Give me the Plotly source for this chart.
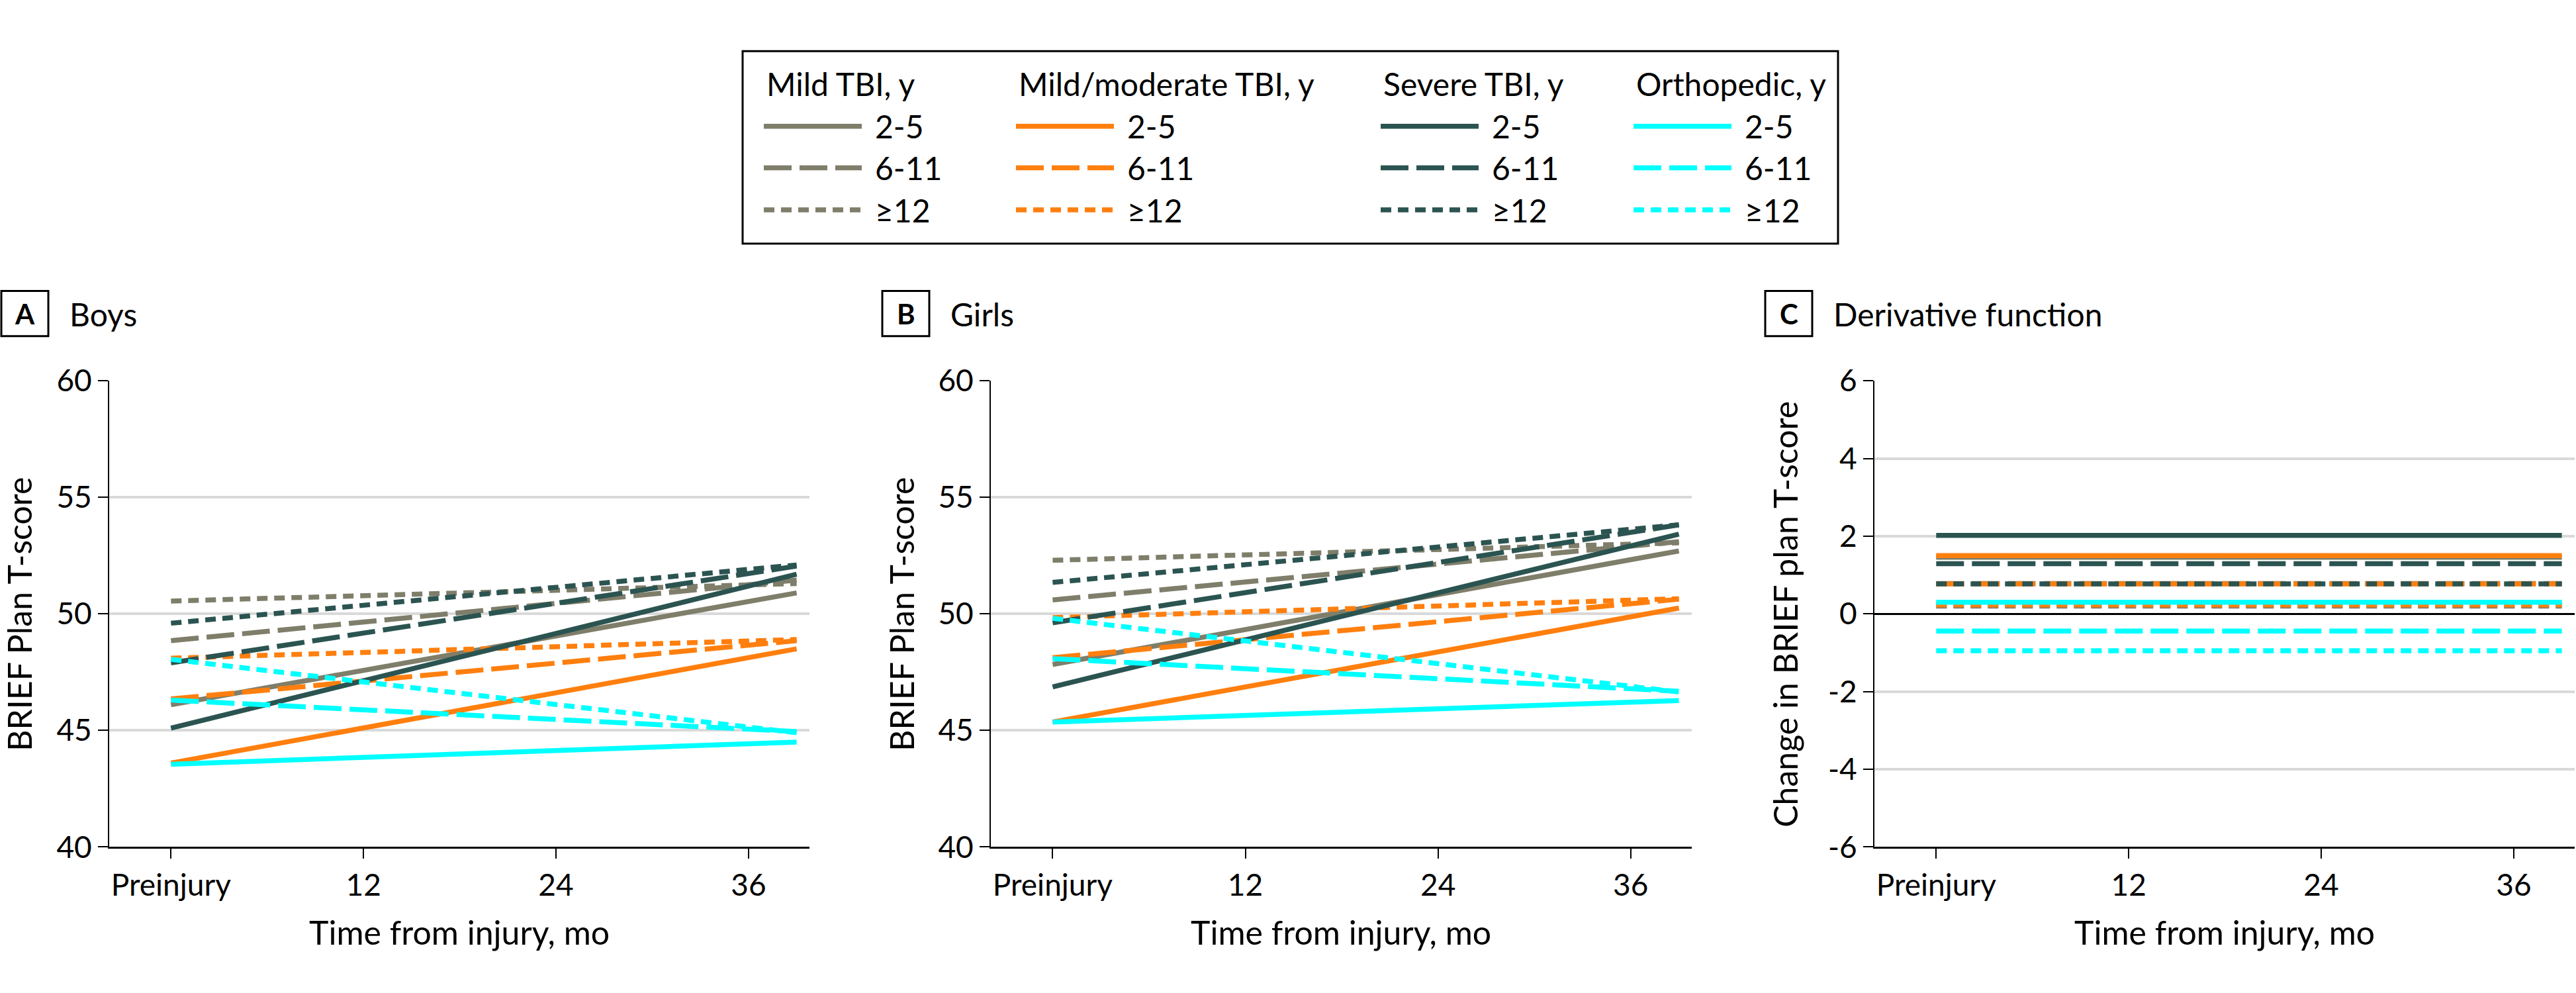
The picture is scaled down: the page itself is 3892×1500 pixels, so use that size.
import plotly.graph_objects as go

W, H = 3892, 1500

# ---------------- data ----------------
months = [0, 39]                      # preinjury -> end of follow-up (mo)
tick_vals = [0, 12, 24, 36]
tick_text = ["Preinjury", "12", "24", "36"]

groups = ["Mild TBI, y", "Mild/moderate TBI, y", "Severe TBI, y", "Orthopedic, y"]
ages = ["2-5", "6-11", "≥12"]
group_colors = ["#7f7e6a", "#ff7f0e", "#2b5451", "#00ffff"]

# Panel A - Boys: [start, end] per age band
boys_mild = [[46.1, 50.9], [48.85, 51.45], [50.55, 51.3]]
boys_mildmod = [[43.6, 48.5], [46.35, 48.85], [48.1, 48.9]]
boys_severe = [[45.1, 51.7], [47.9, 52.05], [49.6, 52.1]]
boys_ortho = [[43.55, 44.5], [46.3, 44.95], [48.05, 44.9]]

# Panel B - Girls
girls_mild = [[47.83, 52.7], [50.6, 53.1], [52.3, 53.05]]
girls_mildmod = [[45.36, 50.25], [48.12, 50.63], [49.84, 50.65]]
girls_severe = [[46.87, 53.42], [49.62, 53.82], [51.35, 53.82]]
girls_ortho = [[45.36, 46.28], [48.08, 46.68], [49.81, 46.65]]

# Panel C - derivative (change per 12 mo)
deriv_mild = [1.46, 0.78, 0.20]
deriv_mildmod = [1.50, 0.77, 0.23]
deriv_severe = [2.02, 1.29, 0.77]
deriv_ortho = [0.30, -0.44, -0.95]

y_ticks_ab = [40, 45, 50, 55, 60]
y_ticks_c = [-6, -4, -2, 0, 2, 4, 6]
y_ticks_c_text = ["-6", "-4", "-2", "0", "2", "4", "6"]

# ---------------- styles ----------------
FONT = "Lato, 'Open Sans', sans-serif"
dashes = ["solid", "42px,12px", "16px,10px"]
LW = 7.5

boys = [boys_mild, boys_mildmod, boys_severe, boys_ortho]
girls = [girls_mild, girls_mildmod, girls_severe, girls_ortho]
deriv = [deriv_mild, deriv_mildmod, deriv_severe, deriv_ortho]

fig = go.Figure()

for gi, g in enumerate(groups):
    for ai, a in enumerate(ages):
        line = dict(color=group_colors[gi], width=LW, dash=dashes[ai])
        fig.add_trace(go.Scatter(x=months, y=boys[gi][ai], mode="lines", line=line,
                                 name=f"{g} {a}", showlegend=False, xaxis="x", yaxis="y",
                                 hoverinfo="skip"))
for gi, g in enumerate(groups):
    for ai, a in enumerate(ages):
        line = dict(color=group_colors[gi], width=LW, dash=dashes[ai])
        fig.add_trace(go.Scatter(x=months, y=girls[gi][ai], mode="lines", line=line,
                                 name=f"{g} {a}", showlegend=False, xaxis="x2", yaxis="y2",
                                 hoverinfo="skip"))
for gi, g in enumerate(groups):
    for ai, a in enumerate(ages):
        line = dict(color=group_colors[gi], width=LW, dash=dashes[ai])
        d = deriv[gi][ai]
        fig.add_trace(go.Scatter(x=months, y=[d, d], mode="lines", line=line,
                                 name=f"{g} {a}", showlegend=False, xaxis="x3", yaxis="y3",
                                 hoverinfo="skip"))

# ---------------- layout ----------------
def px_x(p):
    return p / W

def px_y(p):
    return 1 - p / H

ydom = [px_y(1298), px_y(567)]
xdoms = [[px_x(165), px_x(1223)], [px_x(1497), px_x(2556)], [px_x(2832), px_x(3890)]]
xrange_ = [-3.85, 39.8]

tickfont = dict(family=FONT, size=46, color="black")

def xaxis(dom, anchor):
    return dict(domain=dom, anchor=anchor, range=xrange_, tickvals=tick_vals, ticktext=tick_text,
                showline=True, linecolor="black", linewidth=3, ticks="outside", ticklen=15,
                tickwidth=2, tickcolor="black", tickfont=tickfont, showgrid=False,
                zeroline=False, fixedrange=True)

def yaxis(anchor, rng, vals, text=None, zero=False):
    d = dict(domain=ydom, anchor=anchor, range=rng, tickvals=vals,
             showline=True, linecolor="black", linewidth=2, ticks="outside", ticklen=15,
             tickwidth=2, tickcolor="black", tickfont=tickfont, showgrid=True,
             gridcolor="#d9d9d9", gridwidth=4, zeroline=zero, fixedrange=True)
    if text is not None:
        d["ticktext"] = text
    if zero:
        d["zerolinecolor"] = "black"
        d["zerolinewidth"] = 3
    return d

annotations = []
shapes = []

# axis titles
xt_centers = [694, 2026, 3361]
for xc in xt_centers:
    annotations.append(dict(text="Time from injury, mo", x=px_x(xc), y=px_y(1432), xref="paper",
                            yref="paper", xanchor="center", yanchor="middle", showarrow=False,
                            font=dict(family=FONT, size=50, color="black")))
ytitles = [("BRIEF Plan T-score", 29), ("BRIEF Plan T-score", 1362),
           ("Change in BRIEF plan T-score", 2697)]
for txt, xc in ytitles:
    annotations.append(dict(text=txt, x=px_x(xc), y=px_y(933), xref="paper", yref="paper",
                            xanchor="center", yanchor="middle", showarrow=False, textangle=-90,
                            font=dict(family=FONT, size=50, color="black")))

# panel labels
panels = [("A", "Boys", 2), ("B", "Girls", 1333), ("C", "Derivative function", 2667)]
for letter, title, x0 in panels:
    shapes.append(dict(type="rect", xref="paper", yref="paper", x0=px_x(x0), x1=px_x(x0 + 71),
                       y0=px_y(497), y1=px_y(426), line=dict(color="black", width=3)))
    annotations.append(dict(text=f"<b>{letter}</b>", x=px_x(x0 + 35.5), y=px_y(462), xref="paper",
                            yref="paper", xanchor="center", yanchor="middle", showarrow=False,
                            font=dict(family=FONT, size=42, color="black")))
    annotations.append(dict(text=title, x=px_x(x0 + 101), y=px_y(462), xref="paper",
                            yref="paper", xanchor="left", yanchor="middle", showarrow=False,
                            font=dict(family=FONT, size=48, color="black")))

# legend (drawn manually)
shapes.append(dict(type="rect", xref="paper", yref="paper", x0=px_x(1122), x1=px_x(2777),
                   y0=px_y(352), y1=px_y(50), line=dict(color="black", width=3)))
col_x = [1154, 1535, 2086, 2468]
row_y = [168, 233, 299]
for gi, g in enumerate(groups):
    annotations.append(dict(text=g, x=px_x(col_x[gi] + 2), y=px_y(101), xref="paper", yref="paper",
                            xanchor="left", yanchor="middle", showarrow=False,
                            font=dict(family=FONT, size=48, color="black")))
    for ai, a in enumerate(ages):
        shapes.append(dict(type="line", xref="paper", yref="paper", x0=px_x(col_x[gi]),
                           x1=px_x(col_x[gi] + 148), y0=px_y(row_y[ai]), y1=px_y(row_y[ai]),
                           line=dict(color=group_colors[gi], width=LW, dash=dashes[ai])))
        annotations.append(dict(text=a, x=px_x(col_x[gi] + 166), y=px_y(row_y[ai]), xref="paper",
                                yref="paper", xanchor="left", yanchor="middle", showarrow=False,
                                font=dict(family=FONT, size=48, color="black")))

fig.update_layout(
    width=W, height=H, autosize=False,
    margin=dict(l=0, r=0, t=0, b=0, pad=0),
    paper_bgcolor="white", plot_bgcolor="white",
    font=dict(family=FONT, color="black"),
    showlegend=False,
    xaxis=xaxis(xdoms[0], "y"),
    xaxis2=xaxis(xdoms[1], "y2"),
    xaxis3=xaxis(xdoms[2], "y3"),
    yaxis=yaxis("x", [40, 60], y_ticks_ab),
    yaxis2=yaxis("x2", [40, 60], y_ticks_ab),
    yaxis3=yaxis("x3", [-6, 6], y_ticks_c, y_ticks_c_text, zero=True),
    annotations=annotations,
    shapes=shapes,
)

fig.write_html("out.html", config={"displayModeBar": False},
               post_script="document.body.style.margin='0';document.body.style.overflow='hidden';")
